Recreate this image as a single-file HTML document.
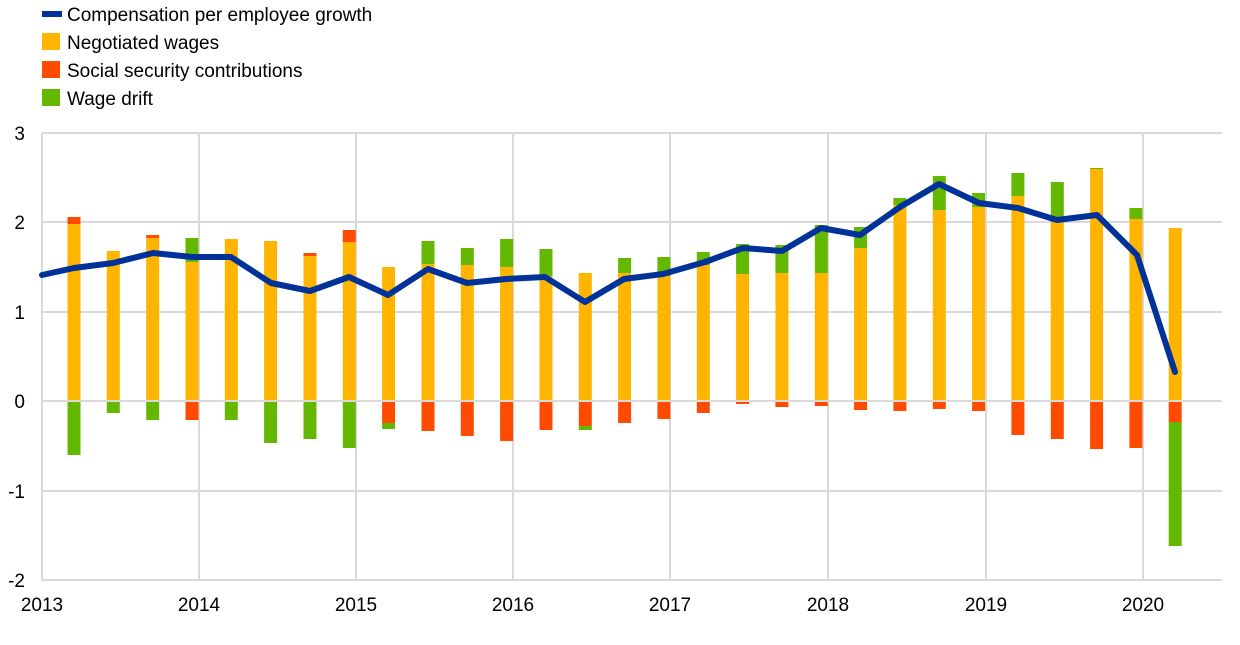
<!DOCTYPE html>
<html><head><meta charset="utf-8"><style>
body{margin:0;background:#fff}
svg text{font-family:"Liberation Sans",Arial,sans-serif;font-size:19px;fill:#000}
</style></head><body>
<svg width="1240" height="640" viewBox="0 0 1240 640" xmlns="http://www.w3.org/2000/svg">
<g stroke="#d9d9d9" stroke-width="2">
<line x1="42" y1="133" x2="1222" y2="133"/>
<line x1="42" y1="222" x2="1222" y2="222"/>
<line x1="42" y1="312" x2="1222" y2="312"/>
<line x1="42" y1="491" x2="1222" y2="491"/>
<line x1="42" y1="580" x2="1222" y2="580"/>
<line x1="42" y1="133" x2="42" y2="580"/>
<line x1="199" y1="133" x2="199" y2="580"/>
<line x1="356" y1="133" x2="356" y2="580"/>
<line x1="513" y1="133" x2="513" y2="580"/>
<line x1="670" y1="133" x2="670" y2="580"/>
<line x1="828" y1="133" x2="828" y2="580"/>
<line x1="986" y1="133" x2="986" y2="580"/>
<line x1="1143" y1="133" x2="1143" y2="580"/>
</g>
<g id="bars"></g>
<line x1="42" y1="401" x2="1222" y2="401" stroke="#d9d9d9" stroke-width="2"/>
<polyline fill="none" stroke="#003299" stroke-width="6" stroke-linejoin="round" stroke-linecap="round" points="42,275 74,268 113,263 153,253 192,257 231,257 271,283 310,291 349,277 388,295 428,269 467,283 506,279 545,277 585,302 624,279 663,274 705,262 743,248 782,251 821,228 860,235 900,207 939,184 979,203 1018,208 1057,220 1097,215 1137,255 1175,372"/>
<g text-anchor="end">
<text x="25" y="140">3</text><text x="25" y="229">2</text><text x="25" y="319">1</text>
<text x="25" y="408">0</text><text x="25" y="498">-1</text><text x="25" y="587">-2</text>
</g>
<g text-anchor="middle">
<text x="42" y="611">2013</text><text x="199" y="611">2014</text><text x="356" y="611">2015</text>
<text x="513" y="611">2016</text><text x="670" y="611">2017</text><text x="828" y="611">2018</text>
<text x="986" y="611">2019</text><text x="1143" y="611">2020</text>
</g>
<line x1="42" y1="14" x2="62" y2="14" stroke="#003299" stroke-width="6"/>
<rect x="42" y="33" width="18" height="17" fill="#FFB400"/>
<rect x="42" y="61" width="18" height="17" fill="#FF4B00"/>
<rect x="42" y="89" width="18" height="17" fill="#65B800"/>
<text x="67" y="21">Compensation per employee growth</text>
<text x="67" y="49">Negotiated wages</text>
<text x="67" y="77">Social security contributions</text>
<text x="67" y="105">Wage drift</text>
</svg>
<script>
// [yellowTop, posExtraTop, posExtraColor, neg1End, neg1Color, neg2End, neg2Color]
var Y='#FFB400',R='#FF4B00',G='#65B800';
var d=[
[224,217,R,455,G],[251,null,null,413,G],[238,235,R,420,G],[262,238,G,420,R],
[239,null,null,420,G],[241,null,null,443,G],[256,253,R,439,G],[242,230,R,448,G],
[267,null,null,423,R,429,G],[264,241,G,431,R],[265,248,G,436,R],[267,239,G,441,R],
[276,249,G,430,R],[273,null,null,426,R,430,G],[273,258,G,423,R],[276,257,G,419,R],
[265,252,G,413,R],[274,244,G,404,R],[273,245,G,407,R],[273,225,G,406,R],
[248,227,G,410,R],[205,198,G,411,R],[210,176,G,409,R],[207,193,G,411,R],
[196,173,G,435,R],[222,182,G,439,R],[169,168,G,449,R],[219,208,G,448,R],
[228,null,null,422,R,546,G]];
var s='';
d.forEach(function(b,i){
 var x=(42+39.33*i+25.5).toFixed(1),w=13;
 s+='<rect x="'+x+'" y="'+b[0]+'" width="'+w+'" height="'+(401-b[0])+'" fill="'+Y+'"/>';
 if(b[1]!=null)s+='<rect x="'+x+'" y="'+b[1]+'" width="'+w+'" height="'+(b[0]-b[1])+'" fill="'+b[2]+'"/>';
 s+='<rect x="'+x+'" y="401" width="'+w+'" height="'+(b[3]-401)+'" fill="'+b[4]+'"/>';
 if(b[5])s+='<rect x="'+x+'" y="'+b[3]+'" width="'+w+'" height="'+(b[5]-b[3])+'" fill="'+b[6]+'"/>';
});
document.getElementById('bars').innerHTML=s;
</script>
</body></html>
